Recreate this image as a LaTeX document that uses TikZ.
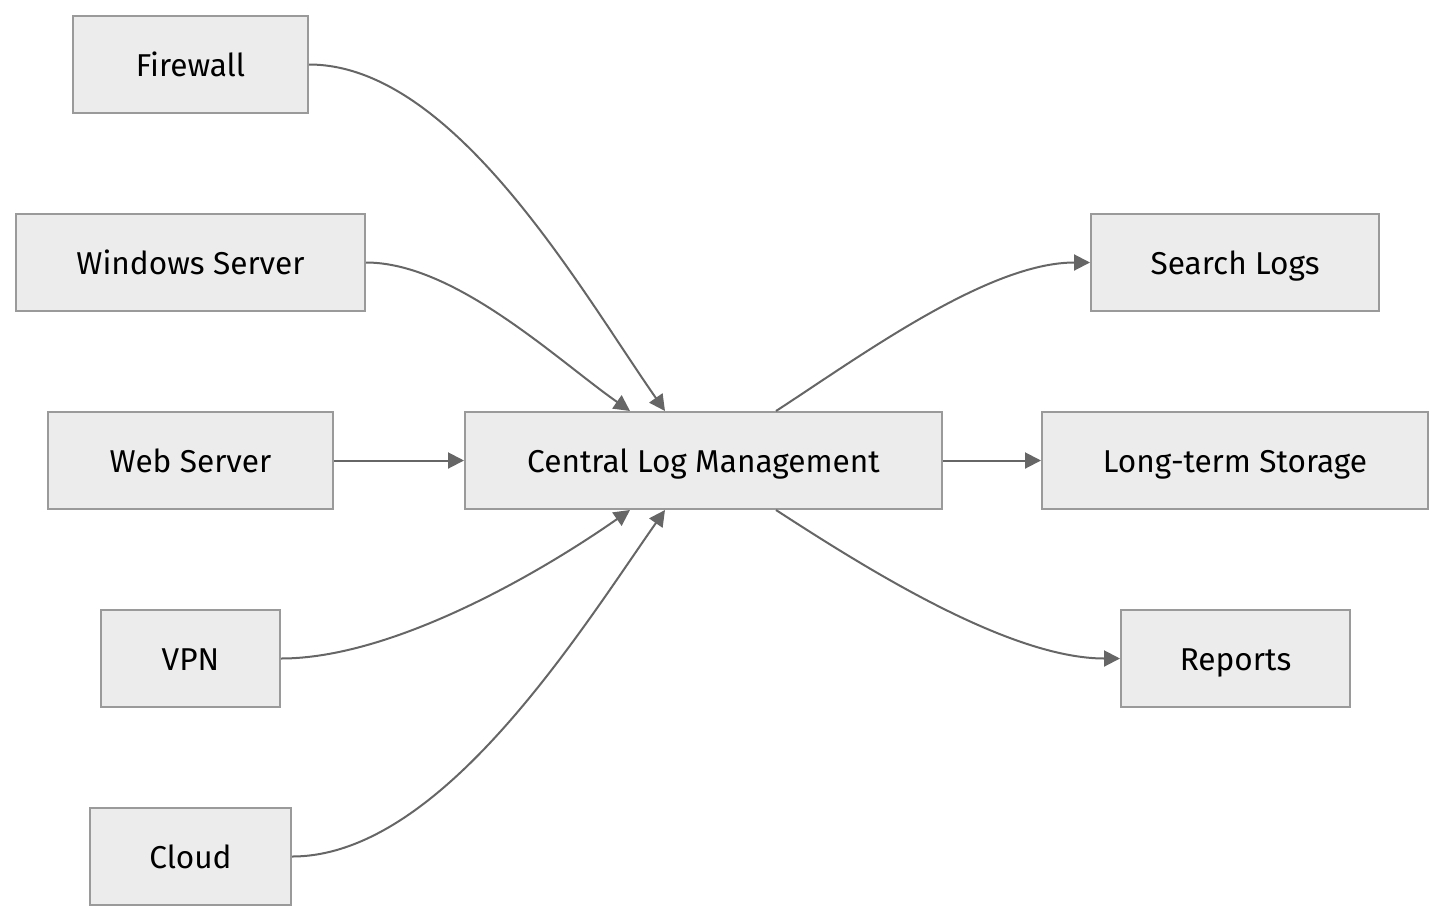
\documentclass[tikz,border=0pt]{standalone}
\usepackage{fontspec}
\setmainfont{Fira Sans}
\usetikzlibrary{arrows.meta}

\definecolor{boxfill}{HTML}{ECECEC}
\definecolor{boxline}{HTML}{9A9A9A}
\definecolor{edgeline}{HTML}{666666}

\tikzstyle{box} = [draw=boxline, fill=boxfill, line width=1pt, minimum height=48.5pt, inner sep=0pt, text height=13pt, text depth=1.5pt, font=\fontsize{15.8}{18}\selectfont]
\tikzstyle{flow} = [draw=edgeline, line width=1pt, -{Triangle[length=8pt,width=8pt]}]

\begin{document}
\begin{tikzpicture}[x=0.5pt, y=-0.5pt]
\useasboundingbox (0,0) rectangle (1445,922);
\node[box, minimum width=117.5pt] (fw) at (190.5,64.5) {Firewall};
\node[box, minimum width=174.5pt] (win) at (190.5,262.5) {Windows Server};
\node[box, minimum width=142.5pt] (web) at (190.5,460.5) {Web Server};
\node[box, minimum width=89.5pt] (vpn) at (190.5,658.5) {VPN};
\node[box, minimum width=100.5pt] (cloud) at (190.5,856.5) {Cloud};
\node[box, minimum width=238.5pt] (clm) at (703.5,460.5) {Central Log Management};
\node[box, minimum width=144pt] (search) at (1235,262.5) {Search Logs};
\node[box, minimum width=193pt] (store) at (1235,460.5) {Long-term Storage};
\node[box, minimum width=114.5pt] (rep) at (1235.5,658.5) {Reports};

\draw[flow] (fw.east) to[out=0, in=125, looseness=0.75] ([xshift=-19.25pt]clm.north);
\draw[flow] (win.east) to[out=0, in=145, looseness=0.75] ([xshift=-36.75pt]clm.north);
\draw[flow] (web) -- (clm);
\draw[flow] (vpn.east) to[out=0, in=-145, looseness=0.75] ([xshift=-36.75pt]clm.south);
\draw[flow] (cloud.east) to[out=0, in=-125, looseness=0.75] ([xshift=-19.25pt]clm.south);
\draw[flow] ([xshift=36.25pt]clm.north) to[out=33, in=180, looseness=0.75] (search.west);
\draw[flow] (clm) -- (store);
\draw[flow] ([xshift=36.25pt]clm.south) to[out=-33, in=180, looseness=0.75] (rep.west);
\end{tikzpicture}
\end{document}
